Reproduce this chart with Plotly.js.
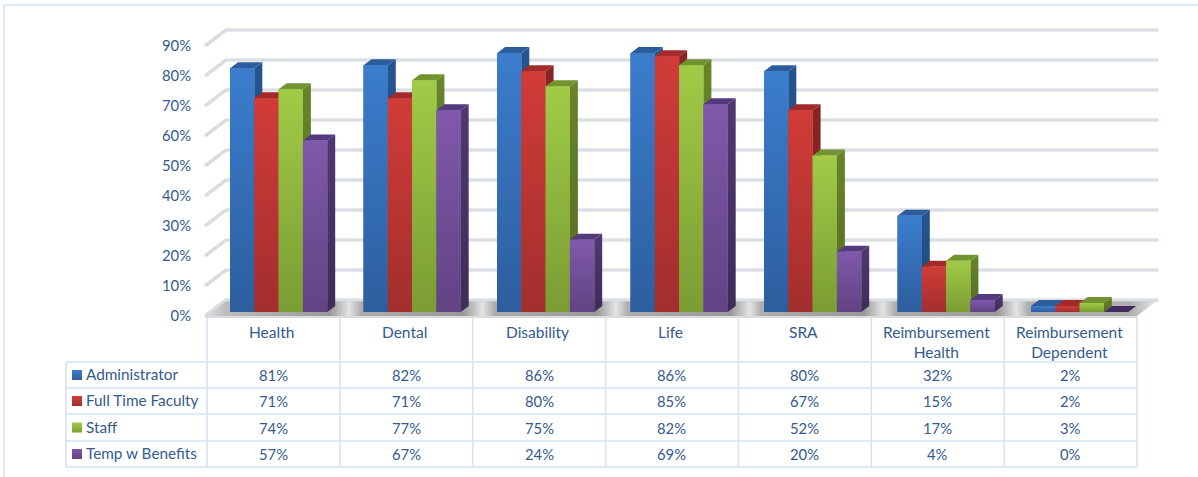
<!DOCTYPE html>
<html>
<head>
<meta charset="utf-8">
<script src="https://cdn.plot.ly/plotly-3.0.1.min.js"></script>
<style>html,body{margin:0;padding:0;background:#fff}#chart{width:1198px;height:477px}</style>
</head>
<body>
<div id="chart"></div>
<script>
// Benefit participation by employee group
const categories = ['Health', 'Dental', 'Disability', 'Life', 'SRA', 'Reimbursement<br>Health', 'Reimbursement<br>Dependent'];
const administrator = [81, 82, 86, 86, 80, 32, 2];
const fullTimeFaculty = [71, 71, 80, 85, 67, 15, 2];
const staff = [74, 77, 75, 82, 52, 17, 3];
const tempWithBenefits = [57, 67, 24, 69, 20, 4, 0];
const seriesNames = ['Administrator', 'Full Time Faculty', 'Staff', 'Temp w Benefits'];
const seriesValues = [administrator, fullTimeFaculty, staff, tempWithBenefits];
const percentTicks = [0, 10, 20, 30, 40, 50, 60, 70, 80, 90];

// Face colours for each series: front top, front bottom, side top, side bottom, cap
const faces = [
  ['#3b7dcd', '#2d5e9e', '#25558f', '#1f4677', '#2b5c9b'],
  ['#d13c38', '#a22e2e', '#8a2524', '#6f1f1e', '#a32a29'],
  ['#a1cb47', '#7b9c33', '#68852a', '#536b22', '#729430'],
  ['#7f59ab', '#624383', '#4f3870', '#3e2c59', '#55397f']
];

const W = 1198, H = 477;
const ink = '#345a8e', rule = '#d5e3f5';
const FONT = 'Lato, "Open Sans", sans-serif';

// Front plane of the box: table columns and percent scale
const frontX = px => (px - 273.4) / 132.86;
const frontY = px => (316 - px) / 3;
const py = px => 1 - px / H;
// Plane the bars stand on, set back from the front of the floor
const barStep = 133.5, barSlot = 0.182, barScale = 3.01;
const depthX = 8 / barStep, depthV = 2;

const traces = [];
const plain = {hoverinfo: 'skip', showlegend: false};

// Floor, shaded dark beside each group and pale in the gaps between them
const floorStops = [[0, '#e6e6e6'], [0.02, '#bdbdbd']];
for (let i = 0; i < categories.length; i++) {
  const a = (330 + 133.5 * i - 205) / 953;
  const c = (349 + 133.5 * i - 205) / 953;
  const b = (361 + 133.5 * i - 205) / 953;
  if (i < categories.length - 1) {
    floorStops.push([a, '#999999'], [c, '#e4e4e4'], [b, '#adadad']);
  }
}
floorStops.push([0.97, '#adadad'], [1, '#e9e9e9']);
traces.push(Object.assign({
  type: 'scatter', mode: 'none', fill: 'toself', xaxis: 'x', yaxis: 'y',
  x: [frontX(205), frontX(226), frontX(1158), frontX(1137), frontX(205)],
  y: [frontY(316), frontY(300), frontY(300), frontY(316), frontY(316)],
  fillgradient: {type: 'horizontal', colorscale: floorStops}
}, plain));
traces.push(Object.assign({
  type: 'scatter', mode: 'lines', xaxis: 'x', yaxis: 'y',
  x: [frontX(205), frontX(1137)], y: [frontY(317), frontY(317)],
  line: {color: '#d9dde2', width: 2}
}, plain));

// Gridlines run from the front edge back along the wall
percentTicks.forEach(v => {
  const xs = [frontX(205), frontX(226), frontX(1158.5)];
  const ys = [v, v + 16 / 3, v + 16 / 3];
  traces.push(Object.assign({type: 'scatter', mode: 'lines', xaxis: 'x', yaxis: 'y', x: xs, y: ys,
    line: {color: '#ccd2d9', width: 3}}, plain));
  traces.push(Object.assign({type: 'scatter', mode: 'lines', xaxis: 'x', yaxis: 'y', x: xs, y: ys,
    line: {color: '#e9ecef', width: 1}}, plain));
});

// Side and cap faces sit beneath the bar fronts
categories.forEach((_, i) => {
  seriesValues.forEach((vals, k) => {
    const v = vals[i];
    const l = i + (k - 1.5) * barSlot - barSlot / 2, r = l + barSlot;
    if (v > 0) {
      traces.push(Object.assign({
        type: 'scatter', mode: 'none', fill: 'toself', xaxis: 'x2', yaxis: 'y2',
        x: [r, r + depthX, r + depthX, r, r], y: [0, depthV, v + depthV, v, 0],
        fillgradient: {type: 'vertical', colorscale: [[0, faces[k][3]], [1, faces[k][2]]]}
      }, plain));
    }
    traces.push(Object.assign({
      type: 'scatter', mode: 'none', fill: 'toself', xaxis: 'x2', yaxis: 'y2',
      x: [l, l + depthX, r + depthX, r, l], y: [v, v + depthV, v + depthV, v, v],
      fillcolor: v > 0 ? faces[k][4] : '#3f2b60'
    }, plain));
  });
});

// Bars, with a shaded front face laid over each one
seriesValues.forEach((vals, k) => {
  traces.push({
    type: 'bar', name: seriesNames[k], xaxis: 'x2', yaxis: 'y3',
    x: categories.map((_, i) => i), y: vals, showlegend: false, hoverinfo: 'skip',
    marker: {color: faces[k][1], line: {width: 0}}
  });
});
categories.forEach((_, i) => {
  seriesValues.forEach((vals, k) => {
    const v = vals[i];
    if (v <= 0) return;
    const l = i + (k - 1.5) * barSlot - barSlot / 2, r = l + barSlot;
    traces.push(Object.assign({
      type: 'scatter', mode: 'none', fill: 'toself', xaxis: 'x2', yaxis: 'y3',
      x: [l, r, r, l, l], y: [0, 0, v, v, 0],
      fillgradient: {type: 'vertical', colorscale: [[0, faces[k][1]], [1, faces[k][0]]]}
    }, plain));
  });
});

// Legend keys in the first table column
const rowCentres = [375, 401, 427.5, 454];
seriesNames.forEach((_, k) => {
  traces.push(Object.assign({
    type: 'scatter', mode: 'markers', xaxis: 'x', yaxis: 'y',
    x: [frontX(77)], y: [frontY(rowCentres[k])],
    marker: {symbol: 'square', size: 10, color: faces[k][0], line: {width: 0},
             gradient: {type: 'vertical', color: faces[k][1]}}
  }, plain));
});

// Table rules
const shapes = [];
const line = (x0, y0, x1, y1) => shapes.push({
  type: 'line', xref: 'paper', yref: 'paper', layer: 'below',
  x0: x0 / W, x1: x1 / W, y0: py(y0), y1: py(y1), line: {color: rule, width: 1.6}
});
line(4, 5, W, 5);
line(4, 5, 4, H);
[362, 388, 414, 441, 467].forEach(y => line(66, y, 1137, y));
line(66, 362, 66, 467);
for (let i = 0; i <= categories.length; i++) {
  const x = 207 + 132.86 * i;
  line(x, 317, x, 467);
}

// Table text
const annotations = [];
const text = (t, x, xanchor, y, size) => annotations.push({
  text: t, xref: 'x', x, xanchor, yref: 'paper', y: py(y), yanchor: 'middle',
  showarrow: false, align: 'center', font: {family: FONT, size, color: ink},
  borderpad: 0
});
categories.forEach((c, i) => text(c, i - 1.5 / 132.86, 'center', c.includes('<br>') ? 341.5 : 332, 15.5));
seriesNames.forEach((n, k) => {
  text(n, frontX(84.5), 'left', rowCentres[k] - 1, 15.3);
  seriesValues[k].forEach((v, i) => text(v + '%', i, 'center', rowCentres[k], 14.8));
});

const hidden = {visible: false, showgrid: false, zeroline: false, fixedrange: true};
const barRange = [(312 - H) / barScale, 312 / barScale];
const layout = {
  width: W, height: H,
  margin: {l: 0, r: 0, t: 0, b: 0, pad: 0},
  paper_bgcolor: '#fff', plot_bgcolor: 'rgba(0,0,0,0)',
  showlegend: false,
  barmode: 'group', bargap: 1 - 4 * barSlot, bargroupgap: 0,
  xaxis: Object.assign({}, hidden, {range: [frontX(0), frontX(W)]}),
  xaxis2: Object.assign({}, hidden, {overlaying: 'x', range: [-278.6 / barStep, (W - 278.6) / barStep]}),
  yaxis: {
    range: [frontY(H), frontY(0)], showgrid: false, zeroline: false, showline: false,
    anchor: 'free', position: 205 / W, side: 'left',
    tickmode: 'array', tickvals: percentTicks, ticktext: percentTicks.map(v => v + '%'),
    ticks: 'outside', ticklen: 11, tickcolor: 'rgba(0,0,0,0)',
    tickfont: {family: FONT, size: 14.8, color: ink}, fixedrange: true
  },
  yaxis2: Object.assign({}, hidden, {overlaying: 'y', anchor: 'x2', range: barRange}),
  yaxis3: Object.assign({}, hidden, {overlaying: 'y', anchor: 'x2', range: barRange}),
  shapes, annotations
};

Plotly.newPlot('chart', traces, layout, {displayModeBar: false, responsive: false, staticPlot: true});
</script>
</body>
</html>
